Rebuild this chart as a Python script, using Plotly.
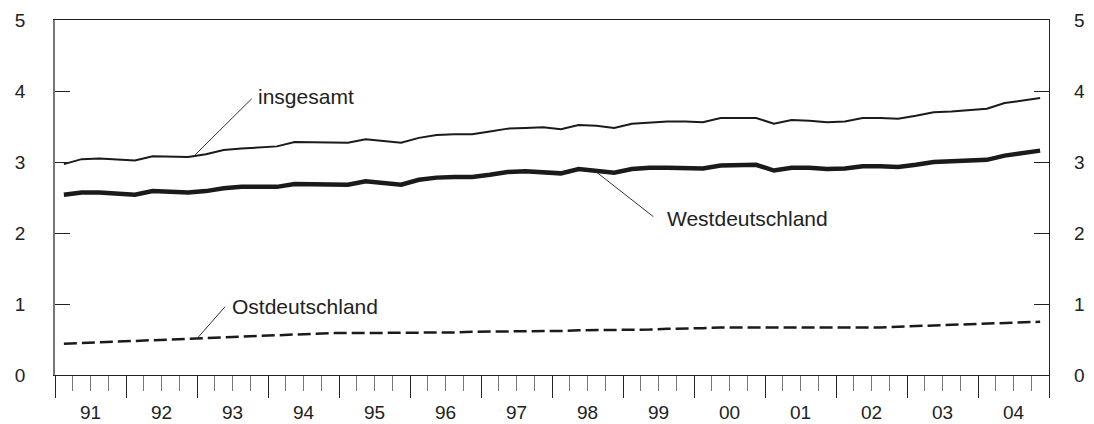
import plotly.graph_objects as go

years = ["91", "92", "93", "94", "95", "96", "97", "98", "99", "00", "01", "02", "03", "04"]
quarters = [f"{y}Q{q}" for y in years for q in range(1, 5)]

insgesamt = [2.97, 3.04, 3.05, 3.04, 3.02, 3.08, 3.08, 3.07,
             3.11, 3.17, 3.19, 3.20, 3.22, 3.28, 3.28, 3.27,
             3.27, 3.32, 3.30, 3.27, 3.34, 3.38, 3.39, 3.39,
             3.43, 3.47, 3.48, 3.49, 3.46, 3.52, 3.51, 3.48,
             3.54, 3.56, 3.57, 3.57, 3.56, 3.62, 3.62, 3.62,
             3.54, 3.59, 3.58, 3.56, 3.57, 3.62, 3.62, 3.61,
             3.65, 3.70, 3.71, 3.73, 3.75, 3.83, 3.87, 3.90]

westdeutschland = [2.54, 2.57, 2.57, 2.56, 2.54, 2.59, 2.58, 2.57,
                   2.59, 2.63, 2.65, 2.65, 2.65, 2.69, 2.69, 2.68,
                   2.68, 2.73, 2.71, 2.68, 2.75, 2.78, 2.79, 2.79,
                   2.82, 2.86, 2.87, 2.86, 2.84, 2.90, 2.88, 2.85,
                   2.90, 2.92, 2.92, 2.92, 2.91, 2.95, 2.96, 2.96,
                   2.88, 2.92, 2.92, 2.90, 2.91, 2.94, 2.94, 2.93,
                   2.96, 3.00, 3.01, 3.02, 3.03, 3.09, 3.13, 3.16]

ostdeutschland = [0.44, 0.45, 0.46, 0.47, 0.48, 0.49, 0.50, 0.51,
                  0.52, 0.53, 0.54, 0.55, 0.56, 0.58, 0.59, 0.59,
                  0.59, 0.59, 0.59, 0.59, 0.60, 0.60, 0.60, 0.61,
                  0.61, 0.61, 0.62, 0.62, 0.62, 0.63, 0.63, 0.63,
                  0.64, 0.64, 0.65, 0.65, 0.66, 0.67, 0.67, 0.67,
                  0.66, 0.66, 0.66, 0.66, 0.67, 0.67, 0.67, 0.68,
                  0.69, 0.70, 0.71, 0.71, 0.72, 0.73, 0.74, 0.75]

y_ticks = [0, 1, 2, 3, 4, 5]

xpos = [i + 0.5 for i in range(len(quarters))]
n = len(quarters)

FONT = "Liberation Sans, Arial, sans-serif"
TXT = "#222222"

fig = go.Figure()
fig.add_trace(go.Scatter(x=xpos, y=insgesamt, mode="lines", name="insgesamt",
                         line=dict(color="#1a1a1a", width=2), text=quarters,
                         showlegend=False))
fig.add_trace(go.Scatter(x=xpos, y=westdeutschland, mode="lines", name="Westdeutschland",
                         line=dict(color="#1a1a1a", width=4.5), text=quarters,
                         showlegend=False))
fig.add_trace(go.Scatter(x=xpos, y=ostdeutschland, mode="lines", name="Ostdeutschland",
                         line=dict(color="#1a1a1a", width=2.5, dash="13px,5px"), text=quarters,
                         showlegend=False))
# invisible trace to anchor the year-label axis and the right axis
fig.add_trace(go.Scatter(x=[xpos[0]], y=[0], xaxis="x2", yaxis="y2", mode="markers",
                         marker=dict(opacity=0), showlegend=False, hoverinfo="skip"))

# page body has an 8px margin, so the figure is sized and offset to compensate
fig.update_layout(
    width=1086, height=416,
    margin=dict(l=47, r=45, t=12, b=49, autoexpand=False),
    paper_bgcolor="white", plot_bgcolor="white",
    font=dict(family=FONT, size=19, color=TXT),
    xaxis=dict(range=[0, n], tickmode="array", tickvals=list(range(0, n + 1, 4)),
               showticklabels=False, ticks="outside", ticklen=22, tickwidth=1.2,
               tickcolor="#222", showgrid=False, zeroline=False, showline=True,
               linecolor="#222", linewidth=1.2, mirror=True, automargin=False,
               minor=dict(tickmode="linear", tick0=0, dtick=1, ticks="outside",
                          ticklen=15, tickcolor="#777", tickwidth=1.2, showgrid=False)),
    xaxis2=dict(range=[0, n], overlaying="x", side="bottom", anchor="y2",
                tickmode="array", tickvals=[2 + 4 * k for k in range(len(years))],
                ticktext=years, ticks="", showticklabels=True, ticklabelstandoff=24,
                showgrid=False, zeroline=False, showline=False, automargin=False,
                tickfont=dict(size=19, color=TXT)),
    yaxis=dict(range=[0, 5], tickvals=y_ticks, ticks="inside", ticklen=15,
               tickcolor="#222", tickwidth=1.2, showgrid=False, zeroline=False,
               showline=True, linecolor="#777", linewidth=1.5, automargin=False,
               ticklabelstandoff=24, tickfont=dict(size=19, color=TXT)),
    yaxis2=dict(range=[0, 5], tickvals=y_ticks, overlaying="y", side="right",
                anchor="x2",
                ticks="inside", ticklen=15, tickcolor="#222", tickwidth=1.2,
                showgrid=False, zeroline=False, showline=True, linecolor="#222",
                linewidth=1.2, automargin=False, ticklabelstandoff=20,
                tickfont=dict(size=19, color=TXT)),
)

# leader lines
leaders = [((7.85, 3.09), (11.08, 3.89)),
           ((30.52, 2.855), (33.71, 2.23)),
           ((7.98, 0.507), (9.58, 0.962))]
for (x0, y0), (x1, y1) in leaders:
    fig.add_shape(type="line", xref="x", yref="y", x0=x0, y0=y0, x1=x1, y1=y1,
                  line=dict(color="#333", width=1))

labels = [("insgesamt", 11.35, 3.92), ("Westdeutschland", 34.35, 2.205),
          ("Ostdeutschland", 9.85, 0.962)]
for t, x, y in labels:
    fig.add_annotation(text=t, x=x, y=y, xref="x", yref="y", xanchor="left",
                       yanchor="middle", showarrow=False,
                       font=dict(family=FONT, size=21, color=TXT))

fig.write_html("out.html")
